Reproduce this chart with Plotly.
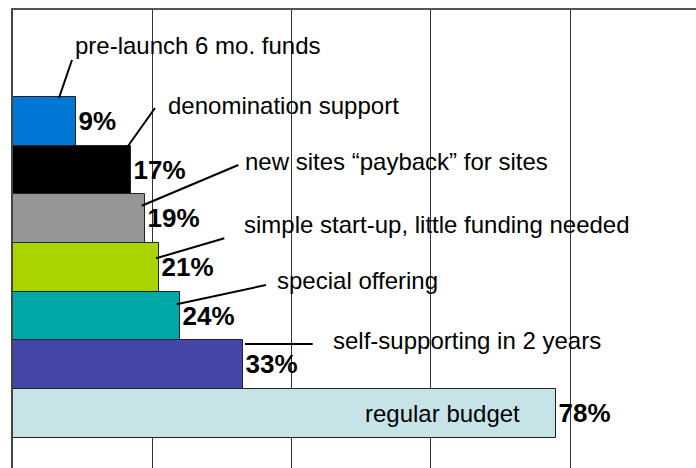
import plotly.graph_objects as go

# ---- data (bottom to top) ----
categories = [
    "regular budget",
    "self-supporting in 2 years",
    "special offering",
    "simple start-up, little funding needed",
    "new sites \u201cpayback\u201d for sites",
    "denomination support",
    "pre-launch 6 mo. funds",
]
values = [78, 33, 24, 21, 19, 17, 9]
bar_colors = ["#C6E4E8", "#4547A8", "#00A8A8", "#AAD400", "#969696", "#000000", "#0077D4"]

# ---- layout helpers: label anchors and leader lines (data coords) ----
label_pos = [  # (x, y) left-anchored text position
    (50.2, 0.0),
    (45.65, 1.49),
    (37.65, 2.73),
    (32.85, 3.89),
    (33.05, 5.17),
    (21.9, 6.33),
    (8.65, 7.57),
]
leader_lines = [  # (x0, y0, x1, y1)
    None,
    (33.31, 1.428, 43.03, 1.428),
    (36.32, 2.640, 23.50, 2.243),
    (30.34, 3.599, 20.53, 3.188),
    (32.35, 5.106, 18.48, 4.269),
    (20.39, 6.276, 16.51, 5.496),
    (8.47, 7.263, 6.60, 6.482),
]

FONT = "Arial, Liberation Sans, sans-serif"

fig = go.Figure()
fig.add_trace(go.Bar(
    x=values,
    y=categories,
    orientation="h",
    marker=dict(color=bar_colors, line=dict(color="#222222", width=1)),
    text=[f"{v}%" for v in values],
    textposition="outside",
    textfont=dict(family=FONT, size=26, color="black", weight="bold"),
    cliponaxis=False,
    width=1,
    hoverinfo="skip",
))

annotations = []
for cat, (lx, ly) in zip(categories, label_pos):
    annotations.append(dict(
        x=lx, y=ly, xref="x", yref="y", text=cat, showarrow=False,
        xanchor="left", yanchor="middle",
        font=dict(family=FONT, size=24, color="black"),
    ))

shapes = []
for ln in leader_lines:
    if ln is None:
        continue
    x0, y0, x1, y1 = ln
    shapes.append(dict(type="line", xref="x", yref="y", x0=x0, y0=y0, x1=x1, y1=y1,
                       line=dict(color="black", width=2)))

fig.update_layout(
    width=696, height=468,
    margin=dict(l=13, r=0, t=10, b=0),
    paper_bgcolor="white", plot_bgcolor="white",
    showlegend=False,
    bargap=0,
    annotations=annotations,
    shapes=shapes,
    xaxis=dict(range=[0, 98.06], dtick=20, showgrid=True, gridcolor="#333333", gridwidth=1,
               showticklabels=False, ticks="", zeroline=False,
               showline=True, linecolor="#555555", linewidth=1.5, side="top"),
    yaxis=dict(categoryorder="array", categoryarray=categories, range=[-1.12, 8.29],
               showticklabels=False, ticks="", showgrid=False, zeroline=False,
               showline=True, linecolor="#444444", linewidth=2),
)

fig.write_html("out.html", config={"displayModeBar": False})

# remove the browser's default page margin so the figure sits at (0, 0)
with open("out.html", "r", encoding="utf-8") as f:
    html = f.read()
html = html.replace("<head>", "<head><style>html,body{margin:0;padding:0;overflow:hidden}</style>", 1)
with open("out.html", "w", encoding="utf-8") as f:
    f.write(html)
